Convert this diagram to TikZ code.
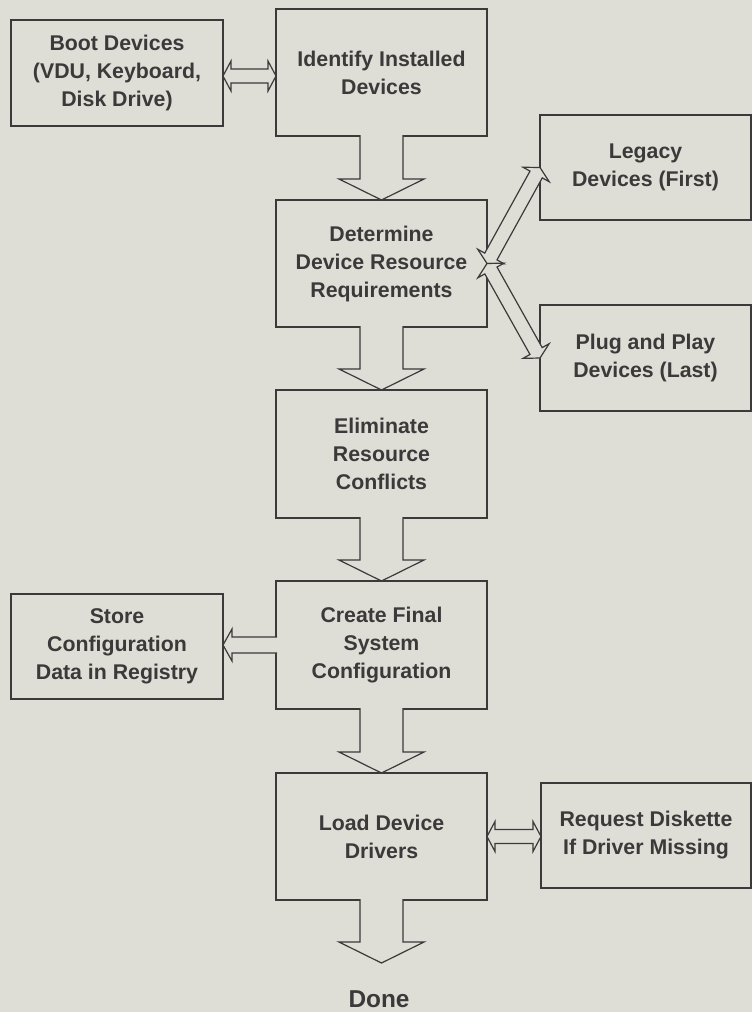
\documentclass[tikz,border=0pt]{standalone}
\usepackage{fontspec}
\setmainfont{Liberation Sans}
\usetikzlibrary{calc,positioning}
\definecolor{paper}{RGB}{222,221,214}
\definecolor{ink}{RGB}{58,58,58}

% hollow block arrow: from, to, shaft half width, head half width, head length
\newcommand\onewayarrow[5]{%
  \coordinate (s) at (#1);
  \coordinate (t) at (#2);
  \coordinate (h) at ($(t)!#5!(s)$);
  \draw[arrowline] ($(s)!#3!90:(t)$) -- ($(h)!#3!-90:(s)$) -- ($(h)!#4!-90:(s)$) -- (t)
    -- ($(h)!#4!90:(s)$) -- ($(h)!#3!90:(s)$) -- ($(s)!#3!-90:(t)$);
}
% hollow double headed arrow
\newcommand\twowayarrow[2]{%
  \coordinate (s) at (#1);
  \coordinate (t) at (#2);
  \coordinate (s1) at ($(s)!8pt!(t)$);
  \coordinate (t1) at ($(t)!8pt!(s)$);
  \draw[arrowline] (s) -- ($(s1)!15pt!90:(t)$) -- ($(s1)!7pt!90:(t)$) -- ($(t1)!7pt!-90:(s)$)
    -- ($(t1)!15pt!-90:(s)$) -- (t) -- ($(t1)!15pt!90:(s)$) -- ($(t1)!7pt!90:(s)$)
    -- ($(s1)!7pt!-90:(t)$) -- ($(s1)!15pt!-90:(t)$) -- cycle;
}

\begin{document}
\begin{tikzpicture}[x=1pt,y=-1pt,
    box/.style={draw=ink,line width=1.2pt,text=ink,align=center,inner sep=0pt,outer sep=0pt,
      minimum width=211pt,minimum height=127pt,font=\fontsize{21.3}{28}\selectfont\bfseries},
    sidebox/.style={box,minimum height=105pt},
    arrowline/.style={draw=ink,line width=1.2pt,fill=paper,line join=miter}]
  \fill[paper] (0,0) rectangle (752,1012);
  \useasboundingbox (0,0) rectangle (752,1012);

  % main column
  \node[box] (ident) at (381.5,72.5) {Identify Installed\\Devices};
  \node[box,below=64pt of ident] (det) {Determine\\Device Resource\\Requirements};
  \node[box,below=63pt of det,minimum height=128pt] (elim) {Eliminate\\Resource\\Conflicts};
  \node[box,below=63pt of elim,minimum height=128pt] (create) {Create Final\\System\\Configuration};
  \node[box,below=64pt of create] (load) {Load Device\\Drivers};
  \node[text=ink,font=\fontsize{24.4}{28}\selectfont\bfseries] (done) at (379,999) {Done};
  \coordinate (donetip) at (381.5,963);

  % side boxes
  \node[sidebox,minimum width=212pt,minimum height=106pt] (boot) at (117,73) {Boot Devices\\(VDU, Keyboard,\\Disk Drive)};
  \node[sidebox] (legacy) at (645.5,167.5) {Legacy\\Devices (First)};
  \node[sidebox,minimum height=106pt] (pnp) at (645.5,358) {Plug and Play\\Devices (Last)};
  \node[sidebox,minimum width=212pt] (store) at (117,646.5) {Store\\Configuration\\Data in Registry};
  \node[sidebox,minimum width=210pt] (request) at (646,835.5) {Request Diskette\\If Driver Missing};

  % arrows
  \onewayarrow{$(ident.south)+(0,-1)$}{det.north}{21.5pt}{42.5pt}{21pt}
  \onewayarrow{$(det.south)+(0,-1)$}{elim.north}{21.5pt}{42.5pt}{21pt}
  \onewayarrow{$(elim.south)+(0,-1)$}{create.north}{21.5pt}{42.5pt}{21pt}
  \onewayarrow{$(create.south)+(0,-1)$}{load.north}{21.5pt}{42.5pt}{21pt}
  \onewayarrow{$(load.south)+(0,-1)$}{donetip}{21.5pt}{42.5pt}{21pt}
  \onewayarrow{$(create.west)+(1,0)$}{store.east |- create.west}{8pt}{16pt}{9pt}
  \twowayarrow{$(boot.east)+(0,3)$}{$(ident.west |- boot.east)+(0,3)$}
  \twowayarrow{det.east}{legacy.west}
  \twowayarrow{det.east}{pnp.west}
  \twowayarrow{load.east}{request.west |- load.east}
\end{tikzpicture}
\end{document}
